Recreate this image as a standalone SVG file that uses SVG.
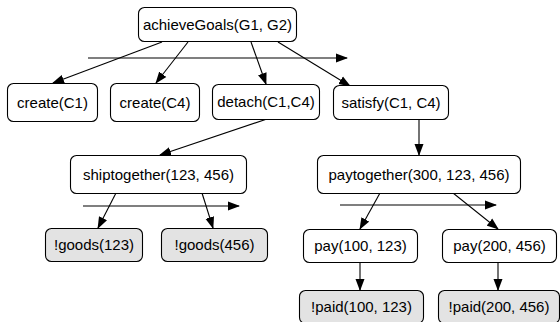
<svg xmlns="http://www.w3.org/2000/svg" width="560" height="322" viewBox="0 0 560 322">
<defs>
<marker id="ah" markerWidth="12" markerHeight="10" refX="11" refY="5" orient="auto" markerUnits="userSpaceOnUse">
<path d="M0,0.5 L12,5 L0,9.5 Z" fill="#000"/>
</marker>
<style>
.n rect{fill:#fff;stroke:#000;stroke-width:1.1}
.g rect{fill:#e3e3e3}
.n text{font-family:"Liberation Sans",Arial,sans-serif;font-size:15px;fill:#000;text-anchor:middle}
.c line{stroke:#000;stroke-width:1.1;marker-end:url(#ah)}
</style>
</defs>
<rect width="560" height="322" fill="#fff"/>
<g class="c">
<line x1="88" y1="58" x2="347" y2="58"/>
<line x1="162" y1="42" x2="53" y2="83"/>
<line x1="188" y1="42" x2="156" y2="83"/>
<line x1="251" y1="42" x2="266" y2="84"/>
<line x1="278" y1="42" x2="350" y2="86"/>
<line x1="267" y1="119" x2="160" y2="155"/>
<line x1="419" y1="119" x2="419" y2="155"/>
<line x1="83" y1="206" x2="239" y2="206"/>
<line x1="116" y1="193" x2="98" y2="228"/>
<line x1="202" y1="193" x2="213" y2="228"/>
<line x1="340" y1="205" x2="496" y2="205"/>
<line x1="380" y1="193" x2="360" y2="229"/>
<line x1="453" y1="193" x2="498" y2="229"/>
<line x1="360" y1="262" x2="360" y2="290"/>
<line x1="498" y1="262" x2="498" y2="290"/>
</g>
<g id="achieveGoals" class="n"><rect x="138.5" y="7.5" width="158" height="34" rx="6"/><text x="217.5" y="30">achieveGoals(G1, G2)</text></g>
<g id="createC1" class="n"><rect x="7.5" y="83.5" width="90" height="38" rx="6"/><text x="52.5" y="107.5">create(C1)</text></g>
<g id="createC4" class="n"><rect x="110.5" y="83.5" width="89" height="38" rx="6"/><text x="155" y="107.5">create(C4)</text></g>
<g id="detach" class="n"><rect x="212.5" y="84.5" width="107" height="35" rx="6"/><text x="266" y="107">detach(C1,C4)</text></g>
<g id="satisfy" class="n"><rect x="333.5" y="85.5" width="115" height="34" rx="6"/><text x="391" y="107.5">satisfy(C1, C4)</text></g>
<g id="shiptogether" class="n"><rect x="70.5" y="155.5" width="176" height="38" rx="6"/><text x="158.5" y="179.5">shiptogether(123, 456)</text></g>
<g id="paytogether" class="n"><rect x="317.5" y="155.5" width="203" height="38" rx="6"/><text x="419" y="179.5">paytogether(300, 123, 456)</text></g>
<g id="goods123" class="n g"><rect x="45.5" y="228.5" width="97" height="33" rx="6"/><text x="94" y="250">!goods(123)</text></g>
<g id="goods456" class="n g"><rect x="161.5" y="228.5" width="106" height="33" rx="6"/><text x="214.5" y="250">!goods(456)</text></g>
<g id="pay100" class="n"><rect x="303.5" y="229.5" width="114" height="33" rx="6"/><text x="360.5" y="251">pay(100, 123)</text></g>
<g id="pay200" class="n"><rect x="442.5" y="229.5" width="114" height="33" rx="6"/><text x="499.5" y="251">pay(200, 456)</text></g>
<g id="paid100" class="n g"><rect x="299.5" y="290.5" width="124" height="33" rx="6"/><text x="361.5" y="312">!paid(100, 123)</text></g>
<g id="paid200" class="n g"><rect x="438.5" y="290.5" width="121" height="33" rx="6"/><text x="499" y="312">!paid(200, 456)</text></g>
</svg>
